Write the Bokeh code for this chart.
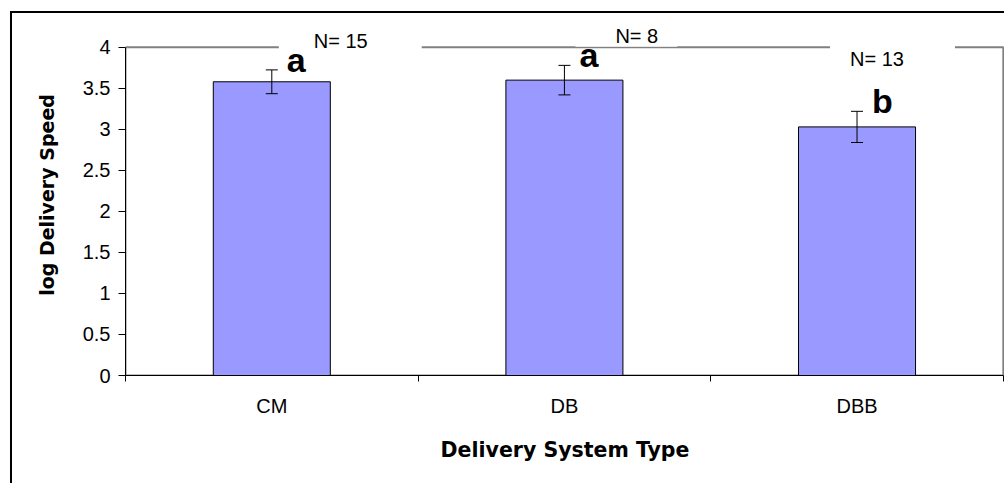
from bokeh.plotting import figure
from bokeh.models import (ColumnDataSource, FixedTicker, Whisker, TeeHead, Label,
                          BoxAnnotation, Range1d)
from bokeh.embed import file_html
from bokeh.resources import INLINE
from bokeh.core.properties import value

# Mean log delivery speed per delivery system, with standard errors
categories = ["CM", "DB", "DBB"]
log_speed = [3.58, 3.60, 3.03]
std_err = [0.145, 0.18, 0.19]
group_letters = ["a", "a", "b"]
sample_sizes = [15, 8, 13]
y_ticks = [0, 0.5, 1, 1.5, 2, 2.5, 3, 3.5, 4]
y_tick_labels = ["0", "0.5", "1", "1.5", "2", "2.5", "3", "3.5", "4"]
y_max = 4

centers = [i + 0.5 for i in range(len(categories))]
bounds = list(range(len(categories) + 1))
upper = [m + e for m, e in zip(log_speed, std_err)]
lower = [m - e for m, e in zip(log_speed, std_err)]

src = ColumnDataSource(dict(x=centers, top=log_speed, upper=upper, lower=lower,
                            letter=group_letters))

FONT = "Liberation Sans"
BOLD_FONT = "DejaVu Sans"

# headroom above the plot area for the sample-size boxes, and a sliver on the
# right so the plot-area border is not clipped
p = figure(width=992, height=470, x_range=Range1d(0, len(categories) + 0.004),
           y_range=Range1d(0, y_max + 0.4), output_backend="svg",
           toolbar_location=None,
           min_border_left=113, min_border_right=0, min_border_top=1,
           min_border_bottom=108)
# chart-area frame drawn as a CSS outline around the whole figure
p.margin = (13, 0, 0, 12)
p.styles = {"outline": "2px solid black"}
p.background_fill_color = "white"
p.border_fill_color = "white"
p.outline_line_color = None
p.xgrid.visible = False
p.ygrid.visible = False

# plot-area border (top and right show; left and bottom lie under the axes)
p.add_layout(BoxAnnotation(left=0, right=len(categories), bottom=0, top=y_max,
                           fill_alpha=0, line_color="#808080", line_alpha=1.0,
                           line_width=2, level="underlay"))

p.vbar(x="x", top="top", bottom=0, width=0.4, source=src,
       fill_color="#9999FF", line_color="black", line_width=1)

whisker = Whisker(base="x", upper="upper", lower="lower", source=src,
                  line_color="black", line_width=1, level="annotation",
                  upper_head=TeeHead(size=12, line_color="black", line_width=1),
                  lower_head=TeeHead(size=12, line_color="black", line_width=1))
p.add_layout(whisker)

p.text(x="x", y="upper", text="letter", source=src, x_offset=15, y_offset=-10,
       text_font=value(FONT), text_font_style="bold", text_font_size="34px",
       text_color="black", text_baseline="alphabetic", text_align="left")

# Sample size text boxes; their white fill breaks the top border line
n_style = [
    dict(x_offset=7, y=4.217, pad=dict(left=35, right=54, top=0, bottom=0)),
    dict(x_offset=11, y=4.274, pad=dict(left=40, right=19, top=0, bottom=0)),
    dict(x_offset=-27, y=4.038, pad=dict(left=20, right=51, top=4, bottom=0)),
]
for cx, n, st in zip(centers, sample_sizes, n_style):
    p.add_layout(Label(x=cx, y=st["y"], x_offset=st["x_offset"],
                       text=f"N= {n}", text_font=FONT, text_font_size="20px",
                       text_color="black", text_baseline="top", text_align="left",
                       background_fill_color="white", padding=st["pad"]))

# y axis
ya = p.yaxis[0]
ya.bounds = (0, y_max)
ya.ticker = FixedTicker(ticks=y_ticks, minor_ticks=[])
ya.major_label_overrides = {t: s for t, s in zip(y_ticks, y_tick_labels)}
ya.axis_line_color = "black"
ya.major_tick_line_color = "black"
ya.major_tick_out = 7
ya.major_tick_in = 0
ya.major_label_standoff = 8
ya.major_label_text_font = FONT
ya.major_label_text_font_size = "20px"
ya.major_label_text_color = "black"
ya.axis_label = "log Delivery Speed"
ya.axis_label_text_font = BOLD_FONT
ya.axis_label_text_font_style = "bold"
ya.axis_label_text_font_size = "19px"
ya.axis_label_text_color = "black"
ya.axis_label_standoff = 22

# x axis: labels at category centres, ticks on category boundaries
xa = p.xaxis[0]
xa.bounds = (0, len(categories))
xa.ticker = FixedTicker(ticks=centers, minor_ticks=bounds)
xa.major_label_overrides = {c: s for c, s in zip(centers, categories)}
xa.axis_line_color = "black"
xa.major_tick_out = 0
xa.major_tick_in = 0
xa.minor_tick_line_color = "black"
xa.minor_tick_out = 6
xa.minor_tick_in = 0
xa.major_label_standoff = 13
xa.major_label_text_font = FONT
xa.major_label_text_font_size = "20px"
xa.major_label_text_color = "black"
xa.axis_label = "Delivery System Type"
xa.axis_label_text_font = BOLD_FONT
xa.axis_label_text_font_style = "bold"
xa.axis_label_text_font_size = "20.5px"
xa.axis_label_text_color = "black"
xa.axis_label_standoff = 18

open("out.html", "w").write(file_html(p, INLINE))
